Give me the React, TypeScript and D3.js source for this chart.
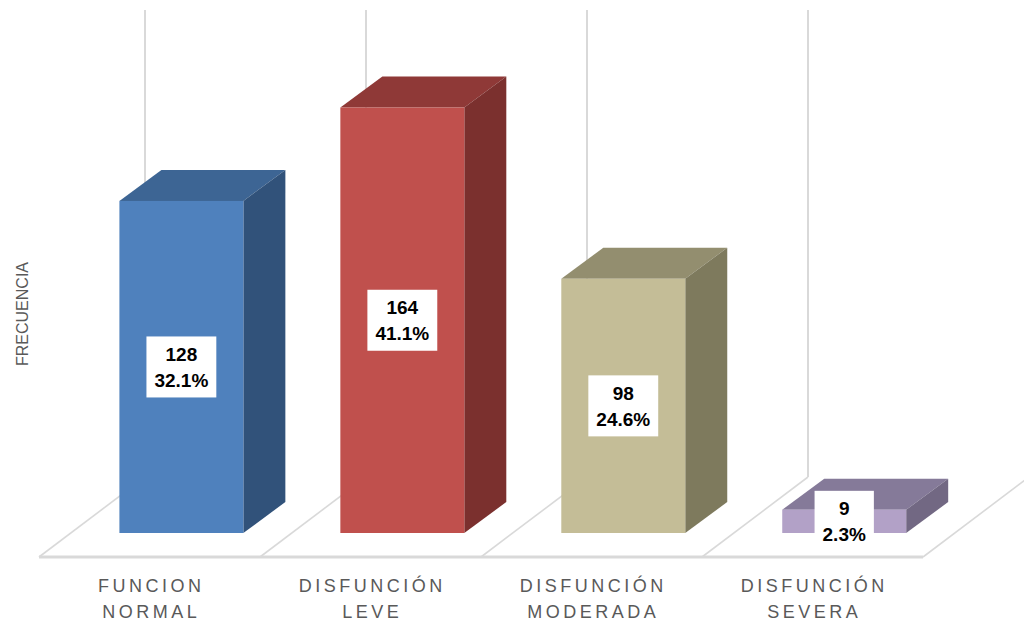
import React from "react";
import * as d3 from "d3";

const categories: string[][] = [
  ["FUNCION", "NORMAL"],
  ["DISFUNCIÓN", "LEVE"],
  ["DISFUNCIÓN", "MODERADA"],
  ["DISFUNCIÓN", "SEVERA"],
];
const counts: number[] = [128, 164, 98, 9];
const percents: string[] = ["32.1%", "41.1%", "24.6%", "2.3%"];
const axisTitle = "FRECUENCIA";
const valueMax = 180;

const frontColors = ["#4F81BD", "#C0504D", "#C4BD97", "#B2A1C7"];
const topColors = ["#3D6594", "#8F3937", "#938E6F", "#857A99"];
const sideColors = ["#31527A", "#7B302E", "#7E7A5D", "#726883"];

const W = 1024;
const H = 625;
const FONT = "'Liberation Sans', Arial, sans-serif";

// geometry
const floorFrontY = 557;
const floorX0 = 39;
const floorX1 = 923;
const depthX = 106;
const depthY = -80;
const barFrontFrac = 0.3;
const barDepthX = 42;
const barDepthY = -31;

function measure(text: string, font: string): number {
  const c = document.createElement("canvas").getContext("2d");
  if (!c) return text.length * 10;
  c.font = font;
  return c.measureText(text).width;
}

export default function App() {
  const keys = categories.map((c) => c.join(" "));
  const xFloor = d3.scaleBand<string>().domain(keys).range([floorX0, floorX1]).padding(0);
  const bfx = barFrontFrac * depthX;
  const bfy = barFrontFrac * depthY;
  const xBar = d3
    .scaleBand<string>()
    .domain(keys)
    .range([floorX0 + bfx, floorX1 + bfx])
    .paddingInner(0.439)
    .paddingOuter(0.22)
    .align(0.5);
  const hScale = d3.scaleLinear().domain([0, valueMax]).range([0, 467]);
  const barBottom = floorFrontY + bfy;
  const backY = floorFrontY + depthY;

  const step = xFloor.step();
  const boundaries = d3.range(keys.length + 1).map((i) => floorX0 + i * step);

  const labelSize = 19;
  const labelFont = `bold ${labelSize}px ${FONT}`;

  return (
    <svg
      width={W}
      height={H}
      style={{ position: "fixed", left: 0, top: 0, background: "#fff" }}
      fontFamily={FONT}
    >
      <rect x={0} y={0} width={W} height={H} fill="#fff" />
      {/* back wall vertical gridlines */}
      {boundaries.slice(0, keys.length).map((bx, i) => (
        <line
          key={"g" + i}
          x1={bx + depthX}
          x2={bx + depthX}
          y1={backY - hScale(valueMax)}
          y2={backY}
          stroke="#D9D9D9"
          strokeWidth={2}
        />
      ))}
      {/* floor diagonals */}
      {boundaries.map((bx, i) => (
        <line
          key={"d" + i}
          x1={bx}
          y1={floorFrontY}
          x2={bx + depthX}
          y2={backY}
          stroke="#D9D9D9"
          strokeWidth={1.6}
        />
      ))}
      {/* floor front edge */}
      <rect x={floorX0} y={floorFrontY - 1.5} width={floorX1 - floorX0} height={3} fill="#D9D9D9" />
      {/* bars */}
      {keys.map((k, i) => {
        const x = xBar(k) as number;
        const w = xBar.bandwidth();
        const h = hScale(counts[i]);
        const top = barBottom - h;
        const topPts = [
          [x, top],
          [x + w, top],
          [x + w + barDepthX, top + barDepthY],
          [x + barDepthX, top + barDepthY],
        ];
        const sidePts = [
          [x + w, top],
          [x + w + barDepthX, top + barDepthY],
          [x + w + barDepthX, barBottom + barDepthY],
          [x + w, barBottom],
        ];
        return (
          <g key={"b" + i}>
            <polygon points={topPts.map((p) => p.join(",")).join(" ")} fill={topColors[i]} />
            <polygon points={sidePts.map((p) => p.join(",")).join(" ")} fill={sideColors[i]} />
            <rect x={x} y={top} width={w} height={h} fill={frontColors[i]} />
          </g>
        );
      })}
      {/* data labels */}
      {keys.map((k, i) => {
        const x = xBar(k) as number;
        const w = xBar.bandwidth();
        const h = hScale(counts[i]);
        const cx = x + w / 2;
        const cy = barBottom - h / 2;
        const t1 = String(counts[i]);
        const t2 = percents[i];
        const tw = Math.max(measure(t1, labelFont), measure(t2, labelFont));
        const bw = tw + 16;
        const bh = 61;
        return (
          <g key={"l" + i}>
            <rect x={cx - bw / 2} y={cy - bh / 2} width={bw} height={bh} fill="#fff" />
            <text x={cx} y={cy - 6} textAnchor="middle" fontSize={labelSize} fontWeight="bold" fill="#000">
              {t1}
            </text>
            <text x={cx} y={cy + 20} textAnchor="middle" fontSize={labelSize} fontWeight="bold" fill="#000">
              {t2}
            </text>
          </g>
        );
      })}
      {/* category labels */}
      {keys.map((k, i) => {
        const cx = (xFloor(k) as number) + xFloor.bandwidth() / 2 + 1.75;
        return (
          <g key={"c" + i}>
            {categories[i].map((line, j) => (
              <text
                key={j}
                x={cx}
                y={592 + j * 26}
                textAnchor="middle"
                fontSize={18}
                letterSpacing={3.5}
                fill="#595959"
              >
                {line}
              </text>
            ))}
          </g>
        );
      })}
      {/* axis title */}
      <text
        transform="translate(28,314) rotate(-90)"
        textAnchor="middle"
        fontSize={16}
        fill="#595959"
      >
        {axisTitle}
      </text>
    </svg>
  );
}
